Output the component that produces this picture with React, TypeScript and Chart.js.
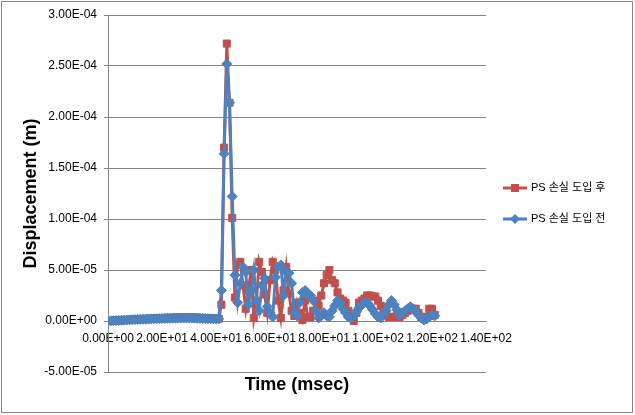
import React, { useEffect, useRef } from 'react';
import { Chart, registerables } from 'chart.js';

Chart.register(...registerables);

const timeMs = [
  0, 1, 2, 3, 4, 5, 6, 7, 8, 9,
  10, 11, 12, 13, 14, 15, 16, 17, 18, 19,
  20, 21, 22, 23, 24, 25, 26, 27, 28, 29,
  30, 31, 32, 33, 34, 35, 36, 37, 38, 39,
  40, 41, 42, 43, 44, 45, 46, 47, 48, 49,
  50, 51, 52, 53, 54, 55, 56, 57, 58, 59,
  60, 61, 62, 63, 64, 65, 66, 67, 68, 69,
  70, 71, 72, 73, 74, 75, 76, 77, 78, 79,
  80, 81, 82, 83, 84, 85, 86, 87, 88, 89,
  90, 91, 92, 93, 94, 95, 96, 97, 98, 99,
  100, 101, 102, 103, 104, 105, 106, 107, 108, 109,
  110, 111, 112, 113, 114, 115, 116, 117, 118, 119,
  120, 121,
];

// PS 손실 도입 후
const afterLoss = [
  0, 2e-7, 4e-7, 5e-7, 7e-7, 8e-7, 1.0e-6, 1.2e-6, 1.3e-6, 1.5e-6,
  1.6e-6, 1.8e-6, 1.9e-6, 2.0e-6, 2.2e-6, 2.3e-6, 2.4e-6, 2.5e-6, 2.7e-6, 2.8e-6,
  2.9e-6, 3.0e-6, 3.1e-6, 3.2e-6, 3.3e-6, 3.4e-6, 3.5e-6, 3.5e-6, 3.6e-6, 3.6e-6,
  3.7e-6, 3.6e-6, 3.5e-6, 3.3e-6, 3.1e-6, 3.0e-6, 2.8e-6, 2.7e-6, 2.6e-6, 2.5e-6,
  2.4e-6, 2.3e-6, 1.6e-5, 1.70e-4, 2.72e-4, 2.14e-4, 1.01e-4, 2.3e-5, 5.5e-5, 5.8e-5,
  3.5e-5, 1.2e-5, 3.0e-5, 5.0e-5, 3e-6, 2.0e-5, 5.8e-5, 4.8e-5, 2.6e-5, 8e-6,
  4.0e-5, 5.8e-5, 5.0e-5, 2.0e-5, 3e-6, 3.0e-5, 5.3e-5, 2.7e-5, 1.0e-5, 5e-6,
  1.8e-5, 8e-6, 1e-6, 2.0e-5, 4e-6, 4e-6, 1.0e-5, 2.0e-5, 1.5e-5, 2.5e-5,
  3.7e-5, 4.5e-5, 5.0e-5, 4.0e-5, 3.7e-5, 2.8e-5, 2.2e-5, 2.0e-5, 1.8e-5, 1.0e-5,
  3e-6, 0, 8e-6, 1.8e-5, 2.0e-5, 2.2e-5, 2.5e-5, 2.5e-5, 2.4e-5, 2.4e-5,
  2.0e-5, 1.5e-5, 1.0e-5, 6e-6, 4e-6, 4e-6, 4e-6, 5e-6, 4e-6, 6e-6,
  8e-6, 1.0e-5, 1.2e-5, 1.2e-5, 1.2e-5, 8e-6, 4e-6, 4e-6, 4e-6, 1.2e-5,
  1.2e-5, 6e-6,
];

// PS 손실 도입 전
const beforeLoss = [
  0, 1e-7, 3e-7, 4e-7, 6e-7, 7e-7, 8e-7, 1.0e-6, 1.1e-6, 1.2e-6,
  1.4e-6, 1.5e-6, 1.6e-6, 1.7e-6, 1.8e-6, 1.9e-6, 2.0e-6, 2.1e-6, 2.2e-6, 2.3e-6,
  2.4e-6, 2.5e-6, 2.6e-6, 2.6e-6, 2.7e-6, 2.8e-6, 2.8e-6, 2.9e-6, 2.9e-6, 3.0e-6,
  3.0e-6, 2.9e-6, 2.8e-6, 2.7e-6, 2.6e-6, 2.5e-6, 2.4e-6, 2.3e-6, 2.2e-6, 2.1e-6,
  2.0e-6, 2.0e-6, 3.0e-5, 1.64e-4, 2.52e-4, 2.14e-4, 1.22e-4, 4.5e-5, 1.8e-5, 3.7e-5,
  5.3e-5, 4.8e-5, 1.6e-5, 3.0e-5, 5.0e-5, 2.0e-5, 1.0e-5, 3.5e-5, 4.2e-5, 1.4e-5,
  8e-6, 4e-6, 4.3e-5, 5.3e-5, 5.5e-5, 2.5e-5, 4.8e-5, 4.7e-5, 3.7e-5, 8e-6,
  5e-6, 1.8e-5, 2.8e-5, 3.0e-5, 2.5e-5, 2.5e-5, 2.0e-5, 1.0e-5, 3e-6, 5e-6,
  8e-6, 5e-6, 4e-6, 1.0e-5, 1.5e-5, 2.0e-5, 1.8e-5, 1.2e-5, 8e-6, 4e-6,
  3e-6, 5e-6, 9e-6, 1.3e-5, 1.6e-5, 1.8e-5, 1.8e-5, 1.5e-5, 1.1e-5, 7e-6,
  4e-6, 3e-6, 6e-6, 1.0e-5, 1.6e-5, 2.0e-5, 1.6e-5, 1.1e-5, 6e-6, 8e-6,
  1.0e-5, 1.2e-5, 1.4e-5, 1.2e-5, 9e-6, 6e-6, 3e-6, 1e-6, 2e-6, 4e-6,
  6e-6, 5e-6,
];

const seriesNames = ['PS 손실 도입 후', 'PS 손실 도입 전'];
const xTitle = 'Time (msec)';
const yTitle = 'Displacement (m)';

const RED = '#C0504D';
const BLUE = '#4F81BD';
const GRID = '#868686';
const FONT = '"Liberation Sans", "Noto Sans CJK KR", Arial, sans-serif';

function sci(v: number): string {
  let val = Number(v);
  if (Math.abs(val) < 1e-15) val = 0;
  const [m, e] = val.toExponential(2).split('e');
  const n = parseInt(e, 10);
  const sign = n < 0 ? '-' : '+';
  return m + 'E' + sign + String(Math.abs(n)).padStart(2, '0');
}

export default function App() {
  const ref = useRef<HTMLCanvasElement>(null);

  useEffect(() => {
    if (!ref.current) return;
    const overlay = {
      id: 'overlay',
      afterDraw(chart: any) {
        const ctx = chart.ctx;
        const area = chart.chartArea;
        ctx.save();
        ctx.fillStyle = '#000';
        ctx.font = 'bold 18px ' + FONT;
        ctx.textAlign = 'center';
        ctx.textBaseline = 'middle';
        ctx.fillText(xTitle, (area.left + area.right) / 2, 385);
        ctx.save();
        ctx.translate(31, (area.top + area.bottom) / 2);
        ctx.rotate(-Math.PI / 2);
        ctx.fillText(yTitle, 0, 0);
        ctx.restore();

        const colors = [RED, BLUE];
        for (let i = 0; i < seriesNames.length; i++) {
          const y = 188 + i * 31;
          ctx.strokeStyle = colors[i];
          ctx.lineWidth = 3;
          ctx.beginPath();
          ctx.moveTo(503, y);
          ctx.lineTo(527, y);
          ctx.stroke();
          ctx.fillStyle = colors[i];
          ctx.beginPath();
          if (i === 0) {
            ctx.rect(511, y - 4, 8, 8);
          } else {
            ctx.moveTo(515, y - 5);
            ctx.lineTo(520, y);
            ctx.lineTo(515, y + 5);
            ctx.lineTo(510, y);
            ctx.closePath();
          }
          ctx.fill();
          ctx.fillStyle = '#000';
          ctx.font = '11px ' + FONT;
          ctx.textAlign = 'left';
          ctx.textBaseline = 'middle';
          ctx.fillText(seriesNames[i], 531, y);
        }
        ctx.restore();
      },
    };

    const chart = new Chart(ref.current, {
      type: 'scatter',
      data: {
        datasets: [
          {
            label: seriesNames[0],
            data: timeMs.map((t, i) => ({ x: t, y: afterLoss[i] })),
            showLine: true,
            borderColor: RED,
            backgroundColor: RED,
            borderWidth: 3,
            pointStyle: 'rect',
            pointRadius: 5,
            pointBorderWidth: 1,
            pointBorderColor: RED,
            pointBackgroundColor: RED,
            order: 1,
          },
          {
            label: seriesNames[1],
            data: timeMs.map((t, i) => ({ x: t, y: beforeLoss[i] })),
            showLine: true,
            borderColor: BLUE,
            backgroundColor: BLUE,
            borderWidth: 3,
            pointStyle: 'rectRot',
            pointRadius: 5,
            pointBorderWidth: 1,
            pointBorderColor: BLUE,
            pointBackgroundColor: BLUE,
            order: 0,
          },
        ],
      },
      options: {
        responsive: false,
        animation: false,
        devicePixelRatio: 1,
        layout: { padding: { left: 0, top: 15, right: 149, bottom: 43 } },
        plugins: {
          legend: { display: false },
          tooltip: { enabled: false },
        },
        scales: {
          x: {
            type: 'linear',
            position: { y: 0 } as any,
            min: 0,
            max: 140,
            ticks: {
              stepSize: 20,
              callback: (v: any) => sci(v),
              padding: 10,
              color: '#000',
              font: { size: 12, family: FONT },
              maxRotation: 0,
              autoSkip: false,
            },
            grid: { display: false, drawTicks: false },
            border: { color: GRID, width: 1 },
          },
          y: {
            type: 'linear',
            min: -5e-5,
            max: 3e-4,
            ticks: {
              stepSize: 5e-5,
              callback: (v: any) => sci(v),
              padding: 7,
              color: '#000',
              font: { size: 12, family: FONT },
            },
            grid: { color: GRID, tickLength: 4, lineWidth: 1 },
            border: { color: GRID, width: 1 },
            afterFit(s: any) {
              s.width = 108;
            },
          },
        },
      } as any,
      plugins: [overlay],
    });
    return () => chart.destroy();
  }, []);

  return (
    <div style={{ position: 'fixed', left: 0, top: 0, width: 635, height: 415, background: '#fff' }}>
      <canvas ref={ref} width={635} height={415} style={{ display: 'block' }} />
      <div
        style={{
          position: 'absolute',
          left: 1,
          top: 1,
          width: 632,
          height: 412,
          border: '1px solid #888',
          boxSizing: 'border-box',
          pointerEvents: 'none',
        }}
      />
    </div>
  );
}
